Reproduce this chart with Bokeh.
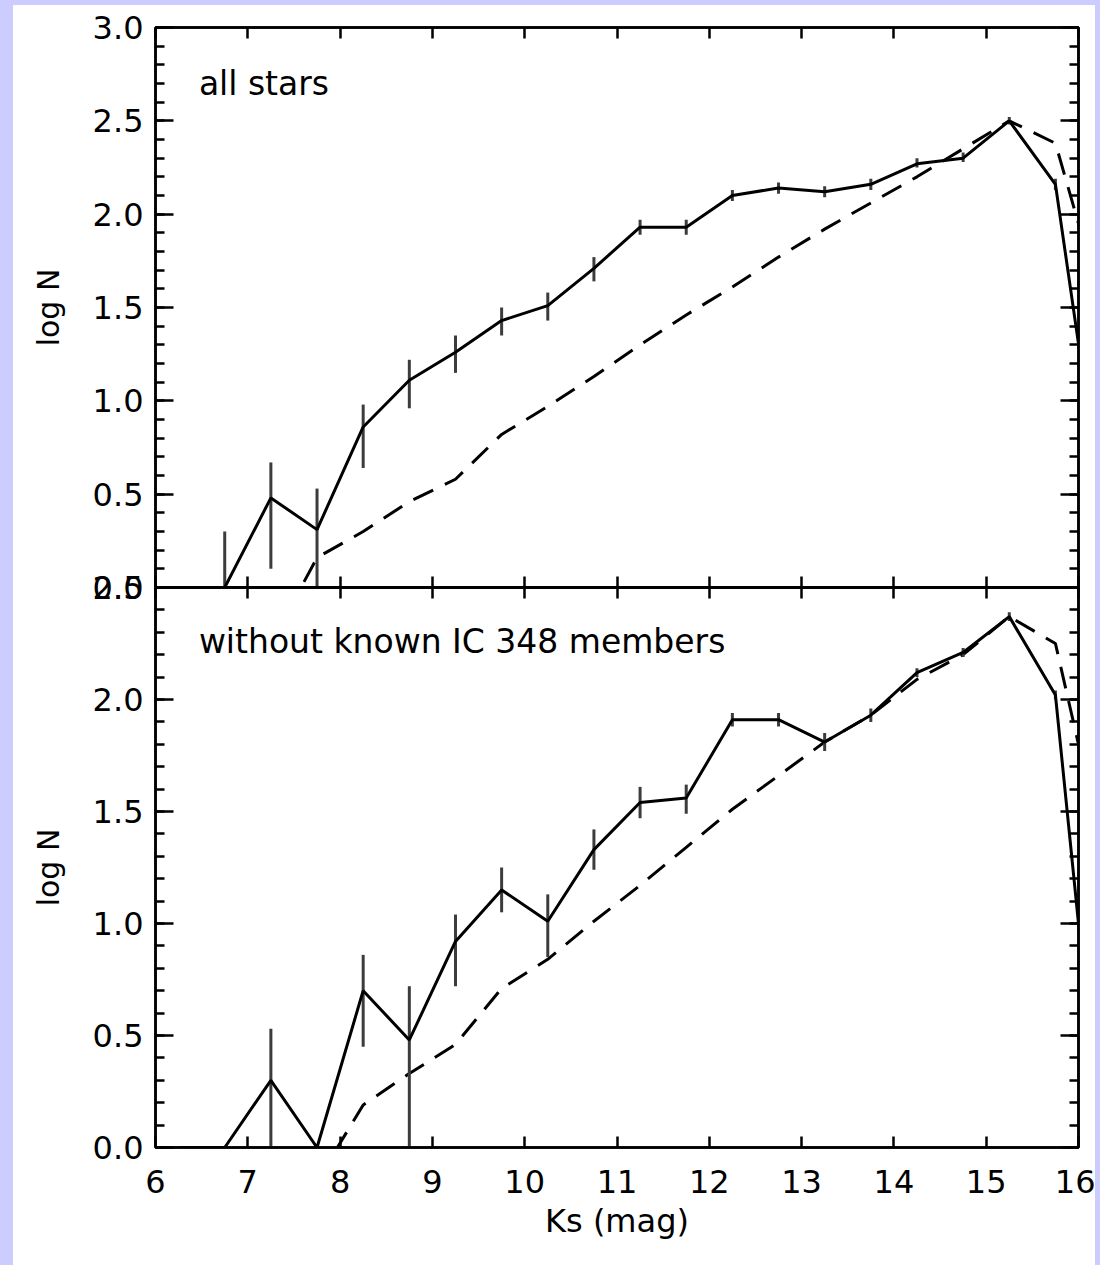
from bokeh.plotting import figure
from bokeh.models import (Range1d, LinearAxis, SingleIntervalTicker,
                          PrintfTickFormatter, Label, ColumnDataSource)
from bokeh.layouts import column
from bokeh.embed import file_html
from bokeh.resources import INLINE

# ---------------- data ----------------
ks_bins = [6.25, 6.75, 7.25, 7.75, 8.25, 8.75, 9.25, 9.75, 10.25, 10.75, 11.25,
           11.75, 12.25, 12.75, 13.25, 13.75, 14.25, 14.75, 15.25, 15.75, 16.25]

top_solid = [0.0, 0.0, 0.48, 0.31, 0.86, 1.11, 1.26, 1.43, 1.51, 1.71, 1.93,
             1.93, 2.10, 2.14, 2.12, 2.16, 2.27, 2.30, 2.50, 2.16, 0.45]

top_dash_ks = [7.25, 7.75, 8.25, 8.75, 9.25, 9.75, 10.25, 10.75, 11.25, 11.75,
               12.25, 12.75, 13.25, 13.75, 14.25, 14.75, 15.25, 15.75, 16.25]
top_dash = [-0.30, 0.16, 0.30, 0.46, 0.58, 0.82, 0.97, 1.13, 1.30, 1.46,
            1.61, 1.77, 1.92, 2.06, 2.20, 2.35, 2.50, 2.38, 1.52]

top_err_ks = [6.75, 7.25, 7.75, 8.25, 8.75, 9.25, 9.75, 10.25, 10.75, 11.25,
              11.75, 12.25, 12.75, 13.25, 13.75, 14.25, 14.75, 15.25, 15.75]
top_err_lo = [0.0, 0.10, 0.0, 0.64, 0.96, 1.15, 1.35, 1.43, 1.64, 1.89,
              1.89, 2.07, 2.11, 2.09, 2.13, 2.25, 2.28, 2.48, 2.13]
top_err_hi = [0.30, 0.67, 0.53, 0.98, 1.22, 1.35, 1.50, 1.58, 1.77, 1.97,
              1.97, 2.13, 2.17, 2.15, 2.19, 2.30, 2.33, 2.52, 2.19]

bot_solid = [0.0, 0.0, 0.30, 0.0, 0.70, 0.48, 0.92, 1.15, 1.01, 1.33, 1.54,
             1.56, 1.91, 1.91, 1.81, 1.93, 2.12, 2.21, 2.37, 2.02, -0.02]

bot_dash_ks = [7.75, 8.25, 8.75, 9.25, 9.75, 10.25, 10.75, 11.25, 11.75,
               12.25, 12.75, 13.25, 13.75, 14.25, 14.75, 15.25, 15.75, 16.25]
bot_dash = [-0.15, 0.19, 0.33, 0.46, 0.71, 0.84, 1.01, 1.17, 1.34,
            1.51, 1.66, 1.81, 1.93, 2.09, 2.20, 2.37, 2.25, 1.35]

bot_err_ks = [7.25, 8.25, 8.75, 9.25, 9.75, 10.25, 10.75, 11.25, 11.75,
              12.25, 12.75, 13.25, 13.75, 14.25, 14.75, 15.25, 15.75]
bot_err_lo = [0.0, 0.45, 0.0, 0.72, 1.05, 0.85, 1.24, 1.47, 1.49,
              1.88, 1.88, 1.77, 1.90, 2.10, 2.19, 2.35, 2.00]
bot_err_hi = [0.53, 0.86, 0.72, 1.04, 1.25, 1.13, 1.42, 1.61, 1.62,
              1.94, 1.94, 1.85, 1.96, 2.14, 2.23, 2.39, 2.04]

x_limits = (6, 16)
top_ylim = (0, 3.0)
bot_ylim = (0, 2.5)
top_title = "all stars"
bot_title = "without known IC 348 members"
x_label = "Ks (mag)"
y_label = "log N"

FONT = "DejaVu Sans"
TICK_FS = "32px"
LAVENDER = "#ccccff"
JOIN = 22  # overlap border at the junction of the two panels
EDGE_L, EDGE_T, EDGE_R = 13, 5, 5


def y_axis(labels):
    ax = LinearAxis(ticker=SingleIntervalTicker(interval=0.5, num_minor_ticks=5),
                    formatter=PrintfTickFormatter(format="%.1f"))
    ax.major_tick_in = 18
    ax.major_tick_out = 0
    ax.minor_tick_in = 9
    ax.minor_tick_out = 0
    ax.axis_line_width = 2.5
    ax.major_tick_line_width = 2.5
    ax.minor_tick_line_width = 2.5
    if labels:
        ax.major_label_text_font = FONT
        ax.major_label_text_font_size = TICK_FS
        ax.major_label_text_color = "black"
        ax.major_label_standoff = 12
        ax.axis_label = y_label
        ax.axis_label_text_font = FONT
        ax.axis_label_text_font_size = "30px"
        ax.axis_label_text_font_style = "normal"
        ax.axis_label_text_color = "black"
        ax.axis_label_standoff = 24
    else:
        ax.major_label_text_font_size = "1px"
        ax.major_label_text_color = None
        ax.major_label_standoff = 0
    return ax


def x_axis(labels):
    ax = LinearAxis(ticker=SingleIntervalTicker(interval=1, num_minor_ticks=0))
    ax.major_tick_in = 11
    ax.major_tick_out = 0
    ax.minor_tick_line_color = None
    ax.axis_line_width = 2.5
    ax.major_tick_line_width = 2.5
    if labels:
        ax.major_label_text_font = FONT
        ax.major_label_text_font_size = TICK_FS
        ax.major_label_text_color = "black"
        ax.major_label_standoff = 22
        ax.axis_label = x_label
        ax.axis_label_text_font = FONT
        ax.axis_label_text_font_size = "32px"
        ax.axis_label_text_font_style = "normal"
        ax.axis_label_text_color = "black"
        ax.axis_label_standoff = 6
    else:
        ax.major_label_text_font_size = "1px"
        ax.major_label_text_color = None
        ax.major_label_standoff = 0
    return ax


def panel(ylim, border_top, border_bottom, bottom_labels, margin=None):
    kw = {}
    if margin is not None:
        kw["margin"] = margin
    p = figure(frame_width=923, frame_height=560,
               x_range=Range1d(*x_limits), y_range=Range1d(*ylim),
               x_axis_location=None, y_axis_location=None,
               output_backend="svg", toolbar_location=None,
               min_border_left=155 - EDGE_L, min_border_right=17,
               min_border_top=border_top, min_border_bottom=border_bottom, **kw)
    p.grid.visible = False
    p.outline_line_color = "black"
    p.outline_line_width = 2.5
    p.background_fill_color = None
    p.border_fill_color = None
    p.add_layout(y_axis(True), "left")
    p.add_layout(y_axis(False), "right")
    p.add_layout(x_axis(False), "above")
    p.add_layout(x_axis(bottom_labels), "below")
    return p


def draw(p, solid, dash_ks, dash, err_ks, lo, hi, title, ty):
    p.line(dash_ks, dash, line_color="black", line_width=3, line_dash="22 13")
    src = ColumnDataSource(dict(x=err_ks, lo=lo, hi=hi))
    p.segment(x0="x", y0="lo", x1="x", y1="hi", source=src,
              line_color="#3c3c3c", line_width=3)
    p.line(ks_bins, solid, line_color="black", line_width=3)
    p.add_layout(Label(x=6.47, y=ty, text=title, text_font=FONT,
                       text_font_size="33px", text_baseline="middle",
                       text_color="black"))


top = panel(top_ylim, 27 - EDGE_T, JOIN, False)
draw(top, top_solid, top_dash_ks, top_dash, top_err_ks, top_err_lo, top_err_hi,
     top_title, 2.70)

bot = panel(bot_ylim, JOIN, 118, True, margin=(-2 * JOIN, 0, 0, 0))
draw(bot, bot_solid, bot_dash_ks, bot_dash, bot_err_ks, bot_err_lo, bot_err_hi,
     bot_title, 2.26)

layout = column(top, bot, spacing=0,
                styles={"border-left": f"{EDGE_L}px solid {LAVENDER}",
                        "border-top": f"{EDGE_T}px solid {LAVENDER}",
                        "border-right": f"{EDGE_R}px solid {LAVENDER}",
                        "background-color": "white"})

open("out.html", "w").write(file_html(layout, INLINE))
